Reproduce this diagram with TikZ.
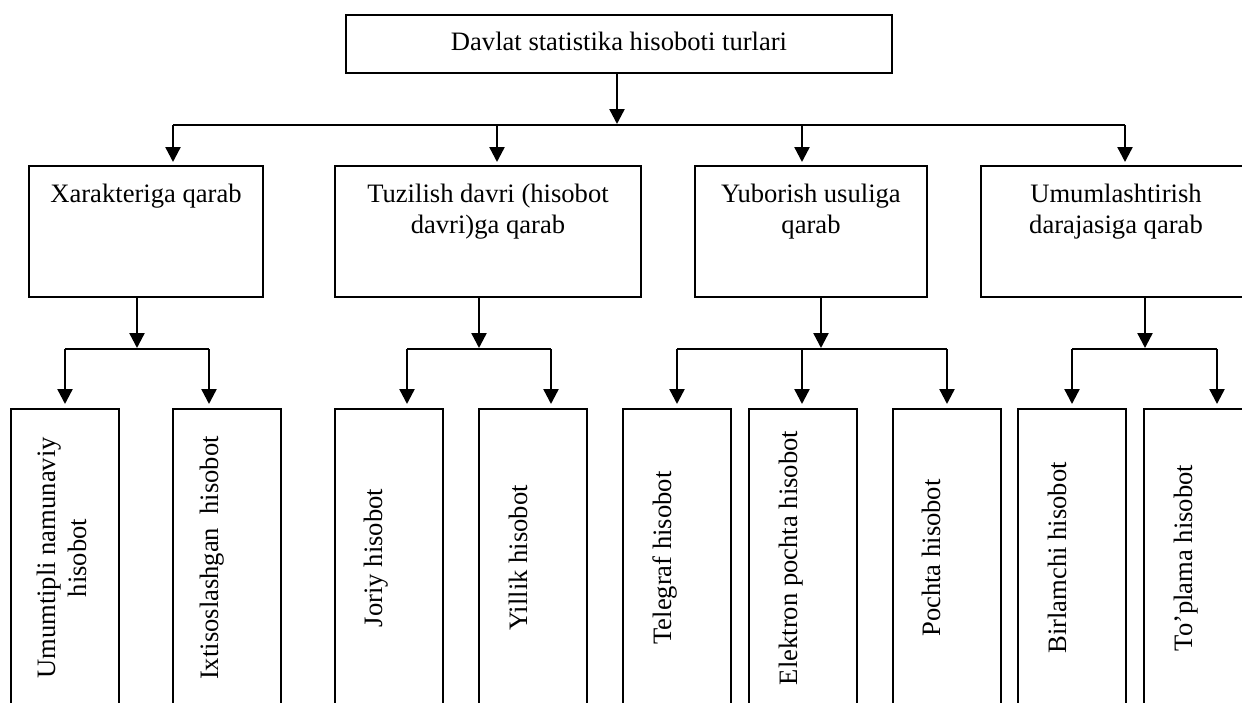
\documentclass[tikz,border=0pt]{standalone}
\usepackage{fontspec}
\setmainfont{Liberation Serif}
\usetikzlibrary{arrows.meta}
\tikzset{
  box/.style={draw, line width=2.6pt, inner sep=0pt, outer sep=0pt, anchor=north west, rectangle},
  lbl/.style={inner sep=0pt, outer sep=0pt, font=\fontsize{26.6pt}{30.6pt}\selectfont, align=center},
  vlbl/.style={lbl, rotate=90},
  conn/.style={line width=2.4pt},
  arr/.style={conn, -{Triangle[length=15pt, width=15pt]}},
}
\begin{document}
\begin{tikzpicture}[x=1pt, y=-1pt]
\useasboundingbox (0,0) rectangle (1242,702);
\clip (0,0) rectangle (1242,702);
\fill[white] (0,0) rectangle (1242,702);

% top box
\node[box, minimum width=546pt, minimum height=58pt] (top) at (346,15) {};
\node[lbl, anchor=base] (ttop) at (619,50) {Davlat statistika hisoboti turlari};

% level 2 boxes
\node[box, minimum width=234pt, minimum height=131pt] (b1) at (29,166) {};
\node[box, minimum width=306pt, minimum height=131pt] (b2) at (335,166) {};
\node[box, minimum width=232pt, minimum height=131pt] (b3) at (695,166) {};
\node[box, minimum width=270pt, minimum height=131pt] (b4) at (981,166) {};
\node[lbl, anchor=north] (tb1) at (146,184) {Xarakteriga qarab};
\node[lbl, anchor=north] (tb2) at (488,184) {Tuzilish davri (hisobot\\davri)ga qarab};
\node[lbl, anchor=north] (tb3) at (811,184) {Yuborish usuliga\\qarab};
\node[lbl, anchor=north] (tb4) at (1116,184) {Umumlashtirish\\darajasiga qarab};

% level 3 boxes
\foreach \n/\x in {c1/11, c2/173, c3/335, c4/479, c5/623, c6/749, c7/893, c8/1018, c9/1144}{
  \node[box, minimum width=108pt, minimum height=320pt] (\n) at (\x,409) {};
}
\node[vlbl, anchor=north] (tc1) at (37,558) {Umumtipli namunaviy\\hisobot};
\node[vlbl, anchor=base] (tc2) at (218,558) {Ixtisoslashgan\ \ hisobot};
\node[vlbl, anchor=base] (tc3) at (382,558) {Joriy hisobot};
\node[vlbl, anchor=base] (tc4) at (527,558) {Yillik hisobot};
\node[vlbl, anchor=base] (tc5) at (671,558) {Telegraf hisobot};
\node[vlbl, anchor=base] (tc6) at (797,558) {Elektron pochta hisobot};
\node[vlbl, anchor=base] (tc7) at (940,558) {Pochta hisobot};
\node[vlbl, anchor=base] (tc8) at (1066,558) {Birlamchi hisobot};
\node[vlbl, anchor=base] (tc9) at (1192,558) {To’plama hisobot};

% level 1 -> level 2
\coordinate (hub) at (617,125);
\coordinate (h1) at (173,125);
\coordinate (h2) at (497,125);
\coordinate (h3) at (802,125);
\coordinate (h4) at (1125,125);
\draw[arr, shorten >=1pt] (top.south -| hub) -- (hub);
\draw[conn] (h1) -- (h4);
\draw[arr, shorten >=4pt] (h1) -- (h1 |- b1.north);
\draw[arr, shorten >=4pt] (h2) -- (h2 |- b2.north);
\draw[arr, shorten >=4pt] (h3) -- (h3 |- b3.north);
\draw[arr, shorten >=4pt] (h4) -- (h4 |- b4.north);

% level 2 -> level 3
\coordinate (s1) at (137,349);
\coordinate (s2) at (479,349);
\coordinate (s3) at (821,349);
\coordinate (s4) at (1145,349);
\draw[arr, shorten >=1pt] (b1.south -| s1) -- (s1);
\draw[arr, shorten >=1pt] (b2.south -| s2) -- (s2);
\draw[arr, shorten >=1pt] (b3.south -| s3) -- (s3);
\draw[arr, shorten >=1pt] (b4.south -| s4) -- (s4);

\coordinate (p1) at (65,349);
\coordinate (p2) at (209,349);
\coordinate (p3) at (407,349);
\coordinate (p4) at (551,349);
\coordinate (p5) at (677,349);
\coordinate (p6) at (802,349);
\coordinate (p7) at (947,349);
\coordinate (p8) at (1072,349);
\coordinate (p9) at (1217,349);
\draw[conn] (p1) -- (p2);
\draw[conn] (p3) -- (p4);
\draw[conn] (p5) -- (p7);
\draw[conn] (p8) -- (p9);
\draw[arr, shorten >=5pt] (p1) -- (p1 |- c1.north);
\draw[arr, shorten >=5pt] (p2) -- (p2 |- c2.north);
\draw[arr, shorten >=5pt] (p3) -- (p3 |- c3.north);
\draw[arr, shorten >=5pt] (p4) -- (p4 |- c4.north);
\draw[arr, shorten >=5pt] (p5) -- (p5 |- c5.north);
\draw[arr, shorten >=5pt] (p6) -- (p6 |- c6.north);
\draw[arr, shorten >=5pt] (p7) -- (p7 |- c7.north);
\draw[arr, shorten >=5pt] (p8) -- (p8 |- c8.north);
\draw[arr, shorten >=5pt] (p9) -- (p9 |- c9.north);
\end{tikzpicture}
\end{document}
